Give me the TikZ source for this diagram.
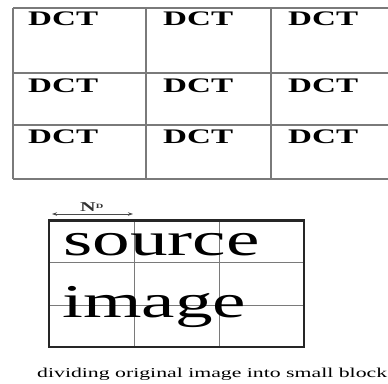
\documentclass[tikz,border=0pt]{standalone}
\usepackage{fontspec}
\setmainfont{Liberation Serif}
\usetikzlibrary{arrows.meta}
\definecolor{gridgray}{HTML}{7A7A7A}
\begin{document}
\begin{tikzpicture}[x=1pt,y=-1pt,
  gridv/.style={draw=gridgray,line width=2pt},
  gridh/.style={draw=gridgray,line width=1.5pt},
  thinline/.style={draw=gridgray,line width=1pt},
  frameline/.style={draw=black!85,line width=2.2pt},
  dct/.style={anchor=base west,inner sep=0pt,font=\fontsize{20.7}{24}\selectfont\bfseries},
  bigword/.style={anchor=base west,inner sep=0pt,font=\fontsize{47}{50}\selectfont},
  caption/.style={anchor=base west,inner sep=0pt,font=\fontsize{13.6}{16}\selectfont},
  dimlabel/.style={anchor=base west,inner sep=0pt,font=\fontsize{13.5}{15}\selectfont\bfseries}]
\useasboundingbox (0,0) rectangle (388,383);
% top grid (open on the right)
\draw[gridh] (388,8) -- (13,8) ;
\draw[gridv] (13,8) -- (13,179);
\draw[gridh] (13,73) -- (388,73);
\draw[gridh] (13,125) -- (388,125);
\draw[gridh] (13,179) -- (388,179);
\draw[gridv] (145.5,8) -- (145.5,179);
\draw[gridv] (271,8) -- (271,179);
% DCT labels
\node[dct] (d11) at (28,25) {\scalebox{1.6}[1]{DCT}};
\node[dct] (d12) at (163,25) {\scalebox{1.6}[1]{DCT}};
\node[dct] (d13) at (288,25) {\scalebox{1.6}[1]{DCT}};
\node[dct] (d21) at (28,92.5) {\scalebox{1.6}[1]{DCT}};
\node[dct] (d22) at (163,92.5) {\scalebox{1.6}[1]{DCT}};
\node[dct] (d23) at (288,92.5) {\scalebox{1.6}[1]{DCT}};
\node[dct] (d31) at (28,143) {\scalebox{1.6}[1]{DCT}};
\node[dct] (d32) at (163,143) {\scalebox{1.6}[1]{DCT}};
\node[dct] (d33) at (288,143) {\scalebox{1.6}[1]{DCT}};
% source image blocks
\draw[thinline] (134,220.5) -- (134,347);
\draw[thinline] (219,220.5) -- (219,347);
\draw[thinline] (49,262) -- (304,262);
\draw[thinline] (49,305) -- (304,305);
\node[bigword] (src) at (63,255) {\scalebox{1.6}[1]{source}};
\node[bigword] (img) at (62,317.5) {\scalebox{1.6}[1]{image}};
\draw[frameline] (49,220.5) rectangle (304,347);
% N_D dimension arrow
\coordinate (al) at (52,214);
\coordinate (ar) at (133,214);
\draw[gridgray!60!black,line width=0.7pt,{Stealth[length=5pt,width=3.5pt]}-{Stealth[length=5pt,width=3.5pt]}] (al) -- (ar);
\node[dimlabel,text=black!80] (nd) at (80,211) {\scalebox{1.6}[1]{N{\fontsize{6.5}{7}\selectfont\raisebox{2.5pt}{D}}}};
% caption
\node[caption] (cap) at (37,377) {\scalebox{1.6}[1]{dividing original image into small block}};
\end{tikzpicture}
\end{document}
